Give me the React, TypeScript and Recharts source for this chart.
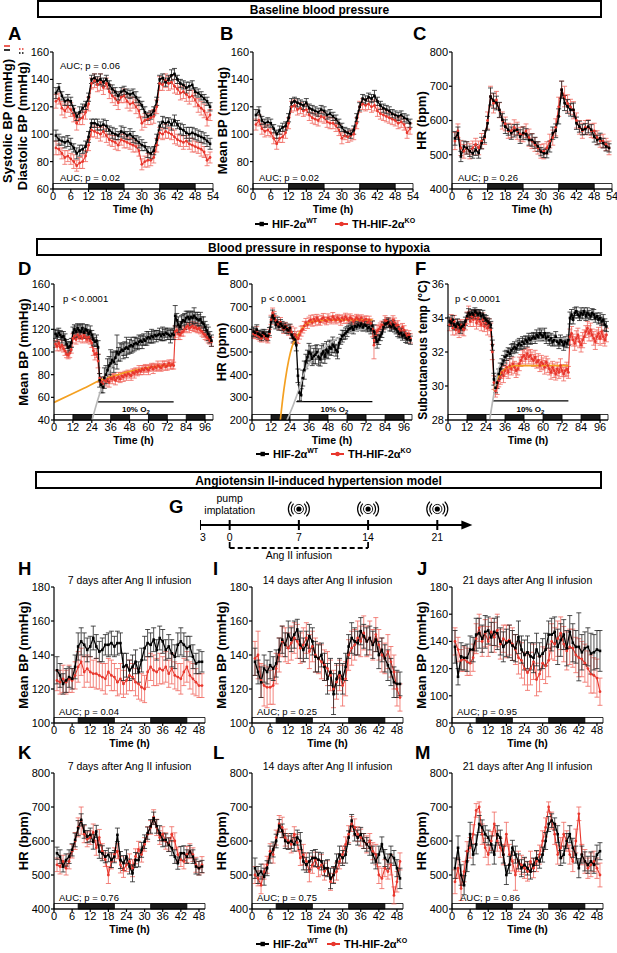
import React from 'react';
import {
  ComposedChart, Line, XAxis, YAxis, ErrorBar, ReferenceArea, ReferenceLine, ReferenceDot, Scatter,
} from 'recharts';

const FONT = '"Liberation Sans", Arial, Helvetica, sans-serif';
const INK = '#000000';
const RED = '#e8372d';
const RED_ERR = '#f0665d';
const ORANGE = '#f4a021';
const FIT_GREY = '#b8b8b8';

// ---------- time axes / light-dark cycles ----------
const ticks54 = [0, 6, 12, 18, 24, 30, 36, 42, 48, 54];
const ticks96 = [0, 12, 24, 36, 48, 60, 72, 84, 96];
const ticks48 = [0, 6, 12, 18, 24, 30, 36, 42, 48];
const darkBaseline: [number, number][] = [[12, 24], [36, 48]];
const darkHypoxia: [number, number][] = [[12, 24], [36, 48], [60, 72], [84, 96]];
const darkAngII: [number, number][] = [[8, 20], [32, 44]];

// ---------- A: systolic / diastolic BP (h 1..53) ----------
const sysWT = [130, 134, 128, 124, 125, 124, 118, 113, 116, 119, 121, 127, 140, 141, 139, 140, 138, 140, 136, 133, 131, 128, 131, 132, 130, 129, 130, 127, 124, 121, 116, 113, 114, 117, 124, 140, 141, 138, 140, 143, 144, 140, 137, 136, 134, 135, 136, 131, 130, 128, 126, 124, 120];
const sysWTE = [4, 3, 3, 3, 4, 3, 3, 3, 4, 3, 3, 3, 3, 3, 3, 4, 3, 3, 3, 3, 3, 3, 3, 3, 3, 3, 3, 4, 3, 3, 4, 3, 3, 3, 3, 3, 3, 3, 3, 4, 4, 3, 3, 3, 4, 3, 3, 3, 3, 3, 3, 3, 3];
const sysKO = [124, 126, 119, 117, 120, 118, 114, 108, 111, 112, 116, 122, 137, 139, 136, 138, 134, 137, 131, 128, 126, 123, 127, 128, 124, 122, 123, 120, 117, 108, 110, 111, 112, 113, 120, 137, 136, 139, 137, 138, 135, 133, 130, 131, 129, 127, 128, 125, 121, 119, 117, 111, 114];
const sysKOE = [5, 4, 5, 5, 4, 5, 5, 5, 4, 5, 5, 5, 4, 5, 5, 6, 5, 4, 5, 5, 5, 5, 4, 5, 5, 5, 4, 5, 5, 5, 5, 4, 5, 5, 5, 5, 4, 5, 5, 5, 5, 4, 5, 5, 5, 5, 4, 5, 5, 5, 5, 5, 4];
const diaWT = [99, 96, 95, 94, 95, 93, 90, 86, 88, 89, 91, 98, 108, 108, 107, 106, 107, 106, 103, 101, 100, 99, 102, 101, 99, 100, 98, 96, 94, 92, 91, 87, 86, 88, 96, 106, 109, 108, 109, 107, 110, 107, 104, 103, 101, 100, 101, 100, 99, 98, 97, 95, 93];
const diaWTE = [4, 4, 3, 4, 4, 4, 3, 4, 4, 3, 4, 4, 3, 3, 4, 3, 4, 4, 3, 4, 4, 3, 4, 4, 3, 4, 4, 3, 4, 4, 3, 4, 4, 3, 4, 3, 4, 4, 3, 4, 4, 3, 4, 4, 4, 5, 4, 4, 4, 4, 4, 4, 4];
const diaKO = [90, 89, 86, 83, 84, 82, 80, 77, 79, 80, 84, 92, 103, 102, 101, 100, 102, 99, 96, 95, 94, 92, 96, 95, 94, 93, 92, 91, 88, 78, 80, 81, 81, 83, 92, 101, 100, 102, 101, 100, 98, 96, 95, 94, 95, 93, 92, 91, 90, 89, 87, 81, 83];
const diaKOE = [5, 4, 4, 5, 4, 4, 5, 4, 4, 5, 4, 4, 5, 4, 4, 5, 4, 5, 4, 4, 5, 4, 4, 5, 4, 4, 5, 4, 4, 4, 4, 5, 4, 4, 5, 4, 4, 5, 4, 4, 5, 4, 4, 5, 4, 4, 5, 4, 4, 5, 4, 4, 4];

// ---------- B: mean BP ----------
const bWT = [114, 117, 110, 108, 109, 108, 104, 100, 103, 105, 106, 112, 123, 124, 123, 122, 121, 123, 119, 118, 117, 116, 118, 117, 114, 115, 113, 111, 108, 105, 102, 101, 100, 103, 112, 120, 126, 125, 127, 126, 128, 124, 121, 119, 118, 117, 115, 114, 113, 114, 112, 111, 108];
const bWTE = [4, 3, 3, 3, 3, 3, 3, 3, 3, 3, 3, 3, 3, 3, 3, 3, 3, 3, 3, 3, 3, 3, 3, 3, 3, 3, 3, 3, 3, 3, 3, 3, 3, 3, 3, 3, 3, 3, 3, 3, 4, 3, 3, 3, 3, 3, 3, 3, 3, 3, 3, 3, 3];
const bKO = [107, 110, 104, 102, 103, 101, 97, 93, 97, 98, 101, 108, 120, 121, 118, 119, 117, 118, 114, 112, 111, 110, 113, 112, 109, 108, 108, 106, 103, 97, 99, 98, 99, 100, 108, 120, 122, 121, 122, 120, 121, 117, 115, 114, 113, 112, 111, 110, 108, 109, 107, 101, 104];
const bKOE = [4, 4, 4, 4, 4, 3, 4, 4, 3, 4, 4, 4, 4, 4, 4, 4, 4, 4, 4, 4, 4, 4, 4, 4, 4, 4, 4, 4, 4, 4, 3, 4, 4, 4, 4, 4, 4, 4, 4, 4, 4, 4, 4, 4, 4, 4, 4, 4, 4, 4, 4, 4, 4];

// ---------- C: heart rate ----------
const cWT = [548, 563, 495, 524, 520, 510, 504, 514, 505, 534, 553, 592, 670, 658, 651, 631, 602, 582, 573, 563, 570, 573, 553, 563, 560, 543, 543, 535, 524, 509, 504, 505, 524, 563, 570, 612, 690, 651, 641, 631, 631, 592, 582, 573, 575, 582, 573, 553, 543, 548, 534, 524, 520];
const cWTE = [20, 18, 15, 16, 18, 15, 14, 16, 15, 17, 18, 20, 25, 22, 20, 22, 18, 20, 16, 18, 18, 16, 20, 18, 16, 15, 18, 16, 14, 12, 12, 14, 16, 18, 20, 22, 25, 22, 20, 18, 20, 18, 16, 15, 16, 18, 15, 16, 14, 15, 14, 13, 12];
const cKO = [540, 570, 520, 510, 520, 510, 520, 530, 520, 540, 550, 600, 670, 650, 660, 630, 600, 590, 570, 570, 580, 570, 560, 560, 570, 550, 540, 530, 520, 510, 510, 520, 540, 550, 580, 640, 690, 670, 650, 640, 630, 600, 580, 570, 580, 580, 570, 570, 550, 540, 540, 530, 520];
const cKOE = [25, 20, 22, 20, 18, 22, 20, 18, 20, 22, 20, 25, 30, 28, 25, 22, 25, 20, 22, 20, 22, 25, 20, 22, 20, 25, 22, 20, 18, 20, 22, 18, 20, 22, 25, 28, 25, 30, 25, 22, 25, 22, 20, 22, 20, 22, 20, 22, 20, 18, 20, 18, 20];

// ---------- D: mean BP under hypoxia (h 1..100) ----------
const dWT = [116, 114, 117, 115, 113, 114, 111, 107, 104, 105, 108,
  117, 120, 118, 121, 119, 118, 121, 117, 120, 119, 116, 118, 115,
  111, 109, 110, 104,
  75, 71, 69, 77, 80, 84, 88, 90, 93, 91, 95, 100,
  98, 100, 102, 101, 103, 104, 103, 105, 106, 105, 107, 108,
  107, 109, 110, 109, 111, 110, 112, 113, 112, 114, 113, 115,
  114, 115, 116, 114, 116, 115, 117, 116, 115, 114, 116, 115,
  132,
  128, 124, 122, 126, 128, 127, 130, 131, 129, 131, 130, 132,
  130, 129, 128, 129, 126, 125, 122, 119, 116, 113, 110];
const dWTE = [4, 5, 4, 4, 5, 4, 5, 4, 5, 4, 4,
  5, 4, 5, 4, 5, 6, 4, 5, 4, 5, 4, 5, 4,
  5, 4, 5, 6,
  6, 7, 5, 9, 8, 10, 8, 12, 7, 9, 6, 15,
  6, 8, 5, 7, 6, 9, 5, 6, 7, 5, 6, 5,
  5, 6, 4, 6, 5, 4, 6, 5, 4, 6, 5, 4,
  5, 4, 5, 4, 6, 5, 4, 5, 4, 6, 5, 4,
  9,
  6, 7, 5, 6, 5, 7, 6, 5, 6, 5, 6, 7,
  5, 6, 5, 6, 5, 6, 5, 5, 6, 5, 5];
const dKO = [107, 105, 108, 104, 106, 103, 101, 98, 97, 99, 102,
  112, 114, 111, 115, 113, 114, 112, 115, 113, 111, 113, 110, 108,
  101, 98, 99, 92,
  77, 74, 72, 75, 74, 76, 73, 77, 76, 78, 75, 77,
  78, 76, 79, 78, 80, 79, 81, 80, 79, 82, 81, 83,
  82, 84, 83, 85, 84, 86, 85, 84, 86, 87, 85, 87,
  86, 88, 87, 86, 88, 89, 87, 88, 90, 88, 89, 88,
  118,
  119, 116, 115, 117, 118, 120, 122, 123, 121, 122, 123, 121,
  122, 120, 121, 119, 118, 116, 115, 113, 112, 110, 109];
const dKOE = [3, 4, 3, 3, 4, 3, 4, 3, 3, 4, 3,
  4, 3, 4, 3, 4, 3, 4, 3, 4, 3, 4, 3, 4,
  4, 5, 4, 6,
  4, 3, 4, 3, 4, 3, 4, 3, 4, 3, 4, 3,
  4, 3, 3, 4, 3, 4, 3, 3, 4, 3, 4, 3,
  3, 4, 3, 3, 4, 3, 3, 4, 3, 3, 4, 3,
  3, 4, 3, 3, 4, 3, 3, 4, 3, 3, 4, 3,
  5,
  4, 5, 4, 3, 4, 3, 4, 3, 4, 3, 4, 3,
  4, 3, 4, 3, 4, 3, 4, 3, 4, 3, 4];

// ---------- E: heart rate under hypoxia ----------
const eWT = [590, 585, 598, 580, 576, 570, 585, 580, 572, 570, 590,
  632, 660, 648, 620, 632, 612, 625, 615, 606, 612, 600, 595, 605,
  575, 562, 555, 530,
  395, 320, 310, 385, 420, 458, 478, 500, 492, 470, 482, 488,
  500, 478, 468, 490, 502, 480, 510, 498, 520, 515, 532, 524,
  508, 500, 540, 556, 570, 575, 582, 590, 600, 604, 610, 598,
  615, 610, 620, 614, 625, 608, 620, 616, 605, 610, 600, 615,
  590,
  565, 545, 555, 570, 582, 610, 622, 626, 630, 615, 610, 620,
  606, 600, 590, 580, 585, 570, 576, 562, 556, 565, 552];
const eWTE = [20, 18, 22, 16, 18, 20, 15, 18, 16, 20, 18,
  22, 25, 20, 18, 22, 16, 18, 20, 18, 16, 18, 15, 18,
  16, 18, 20, 25,
  30, 35, 28, 35, 40, 32, 30, 38, 35, 30, 34, 40,
  32, 36, 30, 38, 34, 30, 36, 28, 32, 30, 34, 28,
  26, 30, 24, 22, 26, 20, 24, 22, 18, 20, 22, 18,
  20, 18, 22, 18, 20, 16, 18, 20, 16, 18, 20, 22,
  30,
  24, 28, 22, 20, 18, 22, 20, 18, 20, 22, 18, 20,
  18, 20, 22, 18, 20, 18, 16, 20, 18, 16, 18];
const eKO = [580, 575, 592, 570, 566, 560, 576, 570, 560, 556, 582,
  642, 672, 660, 640, 626, 616, 632, 610, 600, 616, 605, 590, 600,
  588, 560, 576, 566,
  558, 575, 592, 600, 615, 630, 620, 636, 642, 630, 646, 636,
  650, 640, 632, 646, 652, 640, 636, 650, 645, 640, 656, 646,
  640, 652, 645, 636, 650, 642, 656, 646, 640, 652, 646, 635,
  642, 652, 646, 640, 650, 636, 642, 645, 630, 640, 626, 602,
  530,
  570, 592, 600, 610, 620, 616, 640, 636, 626, 630, 620, 642,
  630, 616, 620, 600, 590, 610, 596, 580, 570, 576, 560];
const eKOE = [18, 16, 20, 15, 18, 16, 14, 18, 15, 16, 18,
  20, 22, 18, 20, 16, 18, 20, 16, 18, 15, 18, 16, 20,
  25, 22, 30, 24,
  20, 18, 22, 16, 20, 18, 16, 18, 20, 16, 18, 20,
  16, 18, 14, 16, 18, 15, 16, 18, 14, 16, 18, 15,
  16, 14, 16, 18, 14, 16, 15, 18, 14, 16, 15, 14,
  16, 14, 15, 16, 14, 18, 16, 14, 16, 18, 20, 35,
  60,
  30, 25, 20, 18, 16, 18, 20, 16, 18, 20, 16, 18,
  20, 16, 18, 20, 18, 16, 20, 18, 16, 18, 20];

// ---------- F: subcutaneous temperature under hypoxia ----------
const fWT = [33.8, 33.7, 33.9, 33.6, 33.5, 33.7, 33.6, 33.4, 33.5, 33.6, 33.8,
  34.1, 34.3, 34.2, 34.3, 34.2, 34.4, 34.3, 34.2, 34.3, 34.1, 34.2, 34.0, 33.9,
  33.8, 33.7, 33.6, 32.4,
  30.4, 29.9, 30.2, 30.7, 31.0, 31.3, 31.5, 31.7, 31.8, 32.0, 31.9, 32.1,
  32.2, 32.3, 32.2, 32.4, 32.5, 32.4, 32.6, 32.5, 32.7, 32.6, 32.8, 32.7,
  32.8, 32.9, 32.8, 33.0, 32.9, 33.1, 33.0, 32.9, 33.1, 32.8, 32.9, 32.7,
  32.8, 32.6, 32.7, 32.9, 32.6, 32.5, 32.7, 32.6, 32.4, 32.6, 32.5, 32.7,
  34.0,
  34.2, 33.9, 34.3, 34.4, 34.2, 34.1, 34.3, 34.2, 34.4, 34.1, 34.3, 34.2,
  34.1, 34.3, 34.2, 34.0, 34.1, 33.9, 34.0, 33.8, 33.9, 33.6, 33.5];
const fWTE = [0.25, 0.2, 0.25, 0.3, 0.2, 0.25, 0.2, 0.3, 0.25, 0.2, 0.25,
  0.2, 0.25, 0.2, 0.2, 0.25, 0.2, 0.2, 0.25, 0.2, 0.2, 0.25, 0.2, 0.25,
  0.2, 0.25, 0.2, 0.3,
  0.35, 0.3, 0.35, 0.3, 0.35, 0.3, 0.3, 0.35, 0.3, 0.25, 0.3, 0.35,
  0.3, 0.3, 0.25, 0.3, 0.3, 0.25, 0.3, 0.3, 0.25, 0.3, 0.3, 0.25,
  0.3, 0.25, 0.3, 0.3, 0.25, 0.3, 0.3, 0.25, 0.3, 0.3, 0.25, 0.3,
  0.3, 0.25, 0.3, 0.3, 0.25, 0.3, 0.3, 0.25, 0.3, 0.3, 0.25, 0.3,
  0.35,
  0.3, 0.25, 0.3, 0.25, 0.2, 0.25, 0.3, 0.25, 0.2, 0.25, 0.3, 0.25,
  0.2, 0.25, 0.3, 0.25, 0.2, 0.25, 0.3, 0.25, 0.3, 0.35, 0.3];
const fKO = [33.6, 33.9, 33.4, 33.8, 33.3, 33.5, 33.2, 33.6, 33.4, 33.3, 33.6,
  34.0, 34.3, 33.8, 34.1, 33.9, 34.2, 33.7, 34.0, 33.8, 33.6, 33.9, 33.5, 33.7,
  33.4, 33.6, 33.3, 32.0,
  30.2, 29.7, 29.9, 30.3, 30.5, 30.8, 30.6, 30.9, 31.1, 30.8, 31.2, 31.0,
  31.3, 31.1, 30.9, 31.0, 31.3, 31.5, 31.7, 31.8, 31.6, 31.9, 31.7, 31.8,
  31.6, 31.5, 31.7, 31.4, 31.5, 31.2, 31.4, 31.3, 31.1, 31.4, 31.2, 31.0,
  30.8, 31.1, 30.9, 30.7, 31.0, 30.8, 31.2, 30.9, 30.7, 30.9, 31.0, 30.8,
  32.9,
  33.1, 32.7, 32.5, 32.8, 33.0, 32.6, 32.4, 32.7, 32.9, 33.2, 33.4, 33.1,
  33.3, 33.0, 32.8, 32.6, 32.9, 33.1, 32.8, 33.2, 32.9, 32.7, 33.0];
const fKOE = [0.35, 0.3, 0.4, 0.35, 0.3, 0.4, 0.35, 0.3, 0.4, 0.35, 0.3,
  0.35, 0.4, 0.3, 0.35, 0.4, 0.3, 0.35, 0.4, 0.3, 0.35, 0.4, 0.3, 0.35,
  0.4, 0.35, 0.4, 0.45,
  0.4, 0.35, 0.4, 0.35, 0.4, 0.35, 0.4, 0.35, 0.4, 0.35, 0.4, 0.35,
  0.4, 0.35, 0.4, 0.35, 0.4, 0.35, 0.4, 0.35, 0.4, 0.35, 0.4, 0.35,
  0.4, 0.35, 0.4, 0.35, 0.4, 0.35, 0.4, 0.35, 0.4, 0.35, 0.4, 0.35,
  0.4, 0.35, 0.4, 0.35, 0.4, 0.35, 0.4, 0.35, 0.4, 0.35, 0.4, 0.35,
  0.45,
  0.4, 0.35, 0.4, 0.45, 0.4, 0.35, 0.4, 0.45, 0.4, 0.35, 0.4, 0.45,
  0.4, 0.35, 0.4, 0.45, 0.4, 0.35, 0.4, 0.45, 0.4, 0.35, 0.4];

// ---------- exponential fits during hypoxia ----------
const fitDWTHours = [24.2, 27, 30.6, 33.8, 38, 42, 48.3, 56.7, 65, 76];
const fitDWT = [40, 54, 69.5, 80, 90, 97, 104.5, 110.5, 113.5, 115.5];
const fitDKOHours = [0, 10, 19, 29.4, 40, 50.5, 61, 76];
const fitDKO = [55.5, 62, 68, 75, 79.7, 83.5, 86.5, 88.7];
const fitEWTHours = [22.1, 26, 29.5, 33.7, 40, 50.5, 61, 76];
const fitEWT = [200, 265, 332, 420, 479, 546, 582, 612];
const fitEKOHours = [17.9, 19.5, 21, 23.2, 25.3, 28.4, 31.6, 37.9, 50.5, 76];
const fitEKO = [200, 300, 376, 465, 524, 568, 604, 634, 642, 642];
const fitFWTHours = [26.3, 28, 29.5, 31.6, 33.7, 35.8, 42, 50.5, 60, 76];
const fitFWT = [28, 29.0, 29.8, 30.9, 31.35, 31.7, 32.3, 32.6, 32.75, 32.8];
const fitFKOHours = [29, 30, 31.5, 33.7, 36, 38, 44, 76];
const fitFKO = [29.7, 30.1, 30.5, 30.8, 31.0, 31.1, 31.2, 31.2];
const hypoxiaWindow = [28, 76];

// ---------- H-J: mean BP after Ang II (h 1..49) ----------
const hWT = [131, 128, 123, 125, 127, 126, 133, 145, 148, 146, 143, 145, 150, 145, 142, 143, 146, 146, 147, 145, 147, 147, 133, 134, 131, 133, 136, 130, 137, 144, 147, 146, 149, 143, 150, 148, 143, 145, 141, 139, 146, 148, 146, 144, 145, 139, 135, 136, 136];
const hWTE = [8, 7, 6, 7, 6, 6, 7, 8, 8, 7, 7, 6, 7, 7, 6, 7, 6, 7, 7, 6, 7, 6, 8, 7, 6, 7, 7, 6, 7, 7, 8, 7, 7, 6, 7, 7, 6, 7, 8, 7, 7, 8, 7, 7, 6, 7, 6, 7, 6];
const hKO = [125, 124, 126, 124, 126, 125, 128, 133, 136, 130, 132, 130, 129, 129, 128, 127, 126, 130, 128, 127, 124, 126, 123, 125, 128, 127, 124, 123, 121, 120, 130, 133, 131, 130, 132, 131, 133, 129, 132, 128, 127, 126, 130, 133, 128, 126, 124, 122, 122];
const hKOE = [6, 7, 8, 7, 8, 7, 8, 9, 8, 9, 8, 9, 8, 9, 8, 8, 9, 8, 9, 8, 8, 9, 8, 8, 9, 8, 8, 9, 8, 8, 9, 8, 9, 8, 9, 8, 9, 8, 9, 8, 8, 9, 8, 9, 8, 9, 8, 7, 7];
const iWT = [136, 130, 124, 132, 130, 134, 132, 135, 143, 149, 146, 152, 149, 152, 155, 146, 143, 146, 151, 148, 139, 138, 140, 133, 126, 130, 117, 126, 130, 126, 133, 145, 150, 148, 147, 154, 151, 148, 150, 146, 149, 140, 143, 138, 134, 130, 124, 123, 123];
const iWTE = [8, 7, 9, 8, 7, 8, 7, 8, 7, 8, 7, 8, 7, 8, 6, 8, 7, 8, 7, 8, 9, 8, 7, 8, 9, 8, 12, 9, 8, 9, 8, 7, 9, 8, 7, 8, 7, 8, 7, 8, 7, 8, 7, 8, 9, 8, 9, 8, 7];
const iKO = [138, 140, 125, 122, 121, 121, 122, 132, 140, 148, 146, 144, 147, 150, 148, 144, 146, 150, 142, 145, 140, 138, 136, 134, 132, 128, 120, 124, 128, 122, 126, 140, 144, 146, 150, 148, 153, 148, 150, 146, 152, 146, 140, 138, 142, 136, 130, 120, 115];
const iKOE = [10, 14, 10, 12, 12, 10, 11, 9, 10, 9, 10, 9, 10, 9, 10, 9, 10, 9, 10, 9, 10, 9, 10, 9, 10, 9, 11, 10, 9, 12, 10, 9, 10, 9, 10, 9, 10, 9, 10, 9, 10, 9, 10, 9, 10, 9, 10, 10, 8];
const jWT = [136, 114, 129, 128, 128, 134, 134, 145, 146, 142, 147, 148, 143, 147, 146, 140, 136, 139, 140, 137, 135, 143, 134, 130, 132, 129, 128, 134, 129, 131, 134, 145, 145, 147, 136, 141, 145, 135, 147, 139, 136, 136, 132, 135, 136, 131, 132, 134, 133];
const jWTE = [12, 6, 10, 9, 10, 10, 9, 12, 11, 10, 12, 10, 11, 10, 12, 10, 11, 10, 12, 11, 10, 12, 10, 11, 12, 10, 11, 12, 10, 11, 12, 10, 12, 11, 13, 12, 11, 13, 12, 14, 12, 25, 13, 12, 14, 15, 13, 14, 15];
const jKO = [140, 134, 126, 127, 125, 124, 128, 142, 150, 140, 146, 140, 147, 143, 148, 138, 142, 140, 141, 138, 134, 128, 126, 120, 117, 120, 125, 112, 116, 124, 122, 126, 140, 138, 142, 146, 138, 133, 136, 135, 130, 128, 127, 124, 120, 116, 115, 113, 103];
const jKOE = [10, 9, 8, 9, 10, 9, 10, 11, 10, 11, 10, 11, 10, 11, 12, 11, 10, 12, 11, 12, 11, 12, 13, 12, 13, 12, 13, 12, 13, 12, 13, 12, 13, 12, 13, 12, 13, 14, 13, 14, 13, 14, 13, 14, 13, 14, 13, 14, 10];

// ---------- K-M: heart rate after Ang II ----------
const kWT = [564, 554, 525, 544, 554, 574, 603, 638, 662, 628, 613, 618, 598, 628, 569, 564, 554, 559, 544, 554, 618, 544, 535, 554, 525, 505, 544, 544, 574, 598, 623, 643, 667, 643, 623, 603, 603, 589, 579, 554, 535, 564, 564, 554, 569, 554, 525, 520, 525];
const kWTE = [18, 20, 16, 18, 20, 18, 20, 22, 18, 20, 18, 20, 22, 18, 20, 22, 18, 20, 22, 18, 20, 25, 22, 20, 22, 25, 22, 20, 22, 20, 18, 20, 18, 20, 22, 20, 18, 20, 22, 20, 18, 20, 22, 20, 18, 20, 22, 20, 18];
const kKO = [530, 525, 540, 520, 540, 570, 600, 640, 660, 620, 605, 610, 625, 580, 610, 570, 545, 500, 540, 560, 570, 530, 515, 530, 540, 520, 555, 575, 560, 590, 620, 640, 670, 640, 610, 620, 600, 590, 620, 600, 560, 545, 540, 560, 570, 560, 530, 520, 530];
const kKOE = [20, 22, 18, 20, 22, 20, 25, 28, 40, 25, 22, 20, 25, 22, 24, 22, 20, 25, 22, 20, 22, 24, 22, 20, 22, 25, 22, 24, 22, 20, 22, 20, 22, 24, 20, 22, 24, 20, 22, 24, 22, 20, 22, 24, 22, 20, 22, 20, 24];
const lWT = [520, 500, 510, 495, 520, 560, 575, 600, 645, 630, 600, 595, 600, 590, 610, 600, 540, 530, 540, 550, 550, 545, 540, 520, 520, 490, 500, 540, 560, 550, 560, 610, 660, 620, 610, 620, 600, 590, 580, 560, 540, 560, 590, 550, 540, 560, 550, 520, 490];
const lWTE = [30, 25, 22, 25, 22, 25, 22, 20, 18, 20, 22, 20, 22, 20, 22, 25, 25, 22, 25, 22, 25, 22, 25, 22, 25, 30, 25, 22, 25, 22, 25, 20, 18, 20, 22, 20, 22, 20, 22, 25, 22, 25, 22, 25, 22, 25, 22, 25, 30];
const lKO = [500, 490, 470, 510, 530, 570, 560, 610, 650, 640, 610, 600, 590, 620, 595, 550, 560, 540, 510, 530, 545, 520, 530, 510, 520, 480, 500, 510, 540, 560, 590, 620, 650, 640, 620, 610, 600, 590, 600, 570, 560, 500, 490, 520, 510, 530, 440, 480, 540];
const lKOE = [25, 22, 25, 22, 25, 22, 25, 22, 25, 30, 25, 22, 25, 22, 25, 22, 30, 25, 30, 25, 22, 25, 30, 25, 22, 25, 22, 25, 22, 25, 22, 25, 22, 25, 22, 25, 22, 25, 22, 25, 30, 25, 30, 25, 22, 30, 25, 30, 25];
const mWT = [520, 580, 500, 470, 540, 620, 560, 590, 650, 640, 620, 610, 590, 560, 620, 610, 560, 500, 530, 580, 560, 540, 520, 530, 520, 510, 530, 550, 540, 560, 600, 650, 660, 650, 620, 550, 560, 600, 620, 580, 560, 520, 560, 540, 530, 540, 530, 560, 570];
const mWTE = [30, 35, 30, 28, 30, 35, 30, 28, 25, 22, 25, 22, 25, 28, 25, 22, 25, 28, 25, 22, 25, 22, 25, 22, 20, 22, 20, 22, 20, 22, 25, 22, 20, 18, 25, 22, 25, 22, 25, 28, 25, 28, 25, 28, 25, 28, 25, 28, 25];
const mKO = [480, 520, 460, 510, 570, 580, 620, 690, 700, 620, 580, 560, 600, 650, 600, 580, 560, 620, 560, 540, 500, 540, 530, 520, 510, 540, 520, 540, 560, 600, 640, 700, 660, 620, 560, 580, 620, 600, 560, 540, 600, 680, 560, 540, 520, 530, 540, 520, 500];
const mKOE = [35, 30, 35, 30, 28, 30, 28, 20, 15, 30, 28, 30, 28, 35, 30, 28, 30, 35, 30, 28, 45, 30, 28, 30, 28, 30, 28, 30, 28, 30, 28, 15, 25, 30, 28, 30, 35, 30, 28, 30, 35, 20, 30, 35, 30, 35, 30, 30, 35];

// ---------- G: protocol timeline (days) ----------
const timelineDays = [-3, 0, 7, 14, 21];
const recordingDays = [7, 14, 21];
const infusionDays = [0, 14];

// ---------- layout ----------
const GEO = {
  A: { x: 53, y: 52, w: 160, h: 137 },
  B: { x: 253, y: 52, w: 160, h: 137 },
  C: { x: 452, y: 52, w: 160, h: 137 },
  D: { x: 54, y: 284, w: 159, h: 136 },
  E: { x: 252, y: 284, w: 160, h: 136 },
  F: { x: 448, y: 284, w: 160, h: 136 },
  H: { x: 54, y: 587, w: 151, h: 136 },
  I: { x: 252, y: 587, w: 151, h: 136 },
  J: { x: 452, y: 587, w: 151, h: 136 },
  K: { x: 54, y: 773, w: 151, h: 136 },
  L: { x: 252, y: 773, w: 151, h: 136 },
  M: { x: 452, y: 773, w: 151, h: 136 },
};

const buildRows = (cols: Record<string, number[]>) => {
  const n = Math.max(...Object.values(cols).map((c) => c.length));
  return Array.from({ length: n }, (_, i) => {
    const r: Record<string, number> = { h: i + 1 };
    Object.keys(cols).forEach((k) => { r[k] = cols[k][i]; });
    return r;
  });
};
const pairRows = (wt: number[], wtE: number[], ko: number[], koE: number[]) =>
  buildRows({ wt, wtE, ko, koE });
const fitRows = (hours: number[], vals: number[]) => hours.map((h, i) => ({ h, v: vals[i] }));

const squareDot = (color: string, s: number) => (p: any) => {
  if (p.cx == null || p.cy == null) return <g key={`q${p.index}`} />;
  return <rect key={`q${p.index}`} x={p.cx - s / 2} y={p.cy - s / 2} width={s} height={s} fill={color} />;
};
const roundDot = (color: string, r: number) => (p: any) => {
  if (p.cx == null || p.cy == null) return <g key={`c${p.index}`} />;
  return <circle key={`c${p.index}`} cx={p.cx} cy={p.cy} r={r} fill={color} />;
};

type Series = { key: string; err: string; color: string; errColor: string; width: number; dot: any };
const koSeries = (key = 'ko', err = 'koE'): Series =>
  ({ key, err, color: RED, errColor: RED_ERR, width: 1.1, dot: roundDot(RED, 1.4) });
const wtSeries = (key = 'wt', err = 'wtE'): Series =>
  ({ key, err, color: INK, errColor: '#222', width: 1.3, dot: squareDot(INK, 2.6) });
const STD_SERIES = [koSeries(), wtSeries()];

const PAD_L = 60;
const PAD_R = 8;
const PAD_T = 8;
const PAD_B = 22;
const tickStyle = { fontSize: 11, fill: '#000' };
const axisStyle = { stroke: '#000', strokeWidth: 1.2 };

interface PanelProps {
  geo: { x: number; y: number; w: number; h: number };
  rows: Record<string, number>[];
  series?: Series[];
  xMax: number;
  xTicks: number[];
  yDomain: [number, number];
  yTicks: number[];
  dark: [number, number][];
  fits?: { data: { h: number; v: number }[]; color: string }[];
  o2y?: number;
}

function Panel({ geo, rows, series = STD_SERIES, xMax, xTicks, yDomain, yTicks, dark, fits = [], o2y }: PanelProps) {
  const { x, y, w, h } = geo;
  const [y0, y1] = yDomain;
  const barTop = y0 + (5.5 * (y1 - y0)) / h;
  return (
    <div style={{ position: 'absolute', left: x - PAD_L, top: y - PAD_T }}>
      <ComposedChart
        width={w + PAD_L + PAD_R}
        height={h + PAD_T + PAD_B}
        data={rows}
        margin={{ top: PAD_T, right: PAD_R, left: 0, bottom: 0 }}
      >
        <XAxis type="number" dataKey="h" domain={[0, xMax]} ticks={xTicks} interval={0} allowDataOverflow
          height={PAD_B} tickSize={3} tickMargin={0} tick={tickStyle} axisLine={axisStyle} tickLine={axisStyle} />
        <YAxis type="number" domain={yDomain} ticks={yTicks} interval={0} allowDataOverflow
          width={PAD_L} tickSize={3} tickMargin={1} tick={tickStyle} axisLine={axisStyle} tickLine={axisStyle} />
        <ReferenceArea x1={0} x2={xMax} y1={y0} y2={barTop} fill="#fff" fillOpacity={1} stroke="#000" strokeWidth={0.8} />
        {dark.map(([a, b]) => (
          <ReferenceArea key={a} x1={a} x2={b} y1={y0} y2={barTop} fill="#1c1c1c" fillOpacity={1} stroke="#000" strokeWidth={0.8} />
        ))}
        {o2y !== undefined && (
          <ReferenceLine segment={[{ x: hypoxiaWindow[0], y: o2y }, { x: hypoxiaWindow[1], y: o2y }]} stroke="#000" strokeWidth={1.3} />
        )}
        {series.map((s) => (
          <Line key={s.key} dataKey={s.key} stroke={s.color} strokeWidth={s.width} dot={s.dot} activeDot={false}
            isAnimationActive={false} legendType="none">
            <ErrorBar dataKey={s.err} width={2.5} stroke={s.errColor} strokeWidth={0.8} direction="y" isAnimationActive={false} />
          </Line>
        ))}
        {fits.map((f, i) => (
          <Line key={`fit${i}`} data={f.data} dataKey="v" type="monotone" stroke={f.color} strokeWidth={1.7}
            dot={false} activeDot={false} isAnimationActive={false} legendType="none" />
        ))}
      </ComposedChart>
    </div>
  );
}

// ---------- G timeline ----------
const arrowHead = (p: any) => (
  <path d={`M${p.cx},${p.cy} L${p.cx - 11},${p.cy - 4.5} L${p.cx - 11},${p.cy + 4.5} Z`} fill="#000" />
);
const dayTick = (p: any) => (
  <g>
    <line x1={p.cx} x2={p.cx} y1={p.cy - 5} y2={p.cy + 5} stroke="#000" strokeWidth={2} />
    <text x={p.cx} y={p.cy + 13} textAnchor="middle" dominantBaseline="central" fontSize={10.5}>{p.payload.label}</text>
  </g>
);
const arc = (cx: number, cy: number, r: number, side: number) => {
  const dx = r * Math.cos(Math.PI / 4) * side;
  const dy = r * Math.sin(Math.PI / 4);
  return `M${cx + dx},${cy - dy} A${r},${r} 0 0 ${side > 0 ? 1 : 0} ${cx + dx},${cy + dy}`;
};
const radioIcon = (p: any) => (
  <g fill="none" stroke="#000" strokeWidth={1.2}>
    <circle cx={p.cx} cy={p.cy} r={2.6} fill="#000" stroke="none" />
    <circle cx={p.cx} cy={p.cy} r={4.6} strokeWidth={0.9} />
    {[7.5, 10.5].map((r) => (
      <g key={r}>
        <path d={arc(p.cx, p.cy, r, -1)} />
        <path d={arc(p.cx, p.cy, r, 1)} />
      </g>
    ))}
  </g>
);
const pumpLabel = (p: any) => (
  <text x={p.cx} y={p.cy} textAnchor="middle" fontSize={10.5}>
    <tspan x={p.cx} dy={-4}>pump</tspan>
    <tspan x={p.cx} dy={12}>implatation</tspan>
  </text>
);
const infusionLabel = (p: any) => (
  <text x={p.cx} y={p.cy} textAnchor="middle" dominantBaseline="central" fontSize={10.5}>Ang II infusion</text>
);

function Timeline() {
  const L = 24;
  const R = 4;
  const T = 12;
  const B = 8;
  const px = 199.6;
  const pw = 272.4;
  const py = 495;
  const ph = 70;
  const rows = timelineDays.map((d) => ({ d, y: 0, label: d < 0 ? `\u2212${-d}` : String(d) }));
  const [s, e] = infusionDays;
  return (
    <div style={{ position: 'absolute', left: px - L, top: py - T }}>
      <ComposedChart width={pw + L + R} height={ph + T + B} data={rows} margin={{ top: T, right: R, left: L, bottom: B }}>
        <XAxis type="number" dataKey="d" domain={[-3, 24.55]} hide allowDataOverflow />
        <YAxis type="number" domain={[-4, 3]} hide allowDataOverflow />
        <ReferenceLine segment={[{ x: -3, y: 0 }, { x: 23.7, y: 0 }]} stroke="#000" strokeWidth={2} />
        <ReferenceDot x={24.55} y={0} r={1} shape={arrowHead} />
        <Scatter dataKey="y" shape={dayTick} isAnimationActive={false} legendType="none" />
        {recordingDays.map((d) => (
          <ReferenceDot key={d} x={d} y={1.6} r={1} shape={radioIcon} />
        ))}
        <ReferenceDot x={s} y={1.9} r={1} shape={pumpLabel} />
        <ReferenceLine segment={[{ x: s, y: -1.7 }, { x: s, y: -2.3 }]} stroke="#000" strokeWidth={1.8} />
        <ReferenceLine segment={[{ x: e, y: -1.7 }, { x: e, y: -2.3 }]} stroke="#000" strokeWidth={1.8} />
        <ReferenceLine segment={[{ x: s, y: -2.3 }, { x: e, y: -2.3 }]} stroke="#000" strokeWidth={1.8} strokeDasharray="5 3" />
        <ReferenceDot x={(s + e) / 2} y={-3.1} r={1} shape={infusionLabel} />
      </ComposedChart>
    </div>
  );
}

// ---------- overlay text ----------
const Header = ({ x, y, w, h, text }: { x: number; y: number; w: number; h: number; text: string }) => (
  <g>
    <rect x={x} y={y} width={w} height={h} fill="#fff" stroke="#000" strokeWidth={2} />
    <text x={x + w / 2} y={y + h / 2 + 0.5} textAnchor="middle" dominantBaseline="central" fontSize={12} fontWeight="bold">{text}</text>
  </g>
);
const VText = ({ x, y, size = 13, children }: { x: number; y: number; size?: number; children: React.ReactNode }) => (
  <text transform={`translate(${x} ${y}) rotate(-90)`} textAnchor="middle" dominantBaseline="central" fontSize={size} fontWeight="bold">
    {children}
  </text>
);
const Letter = ({ x, y, t }: { x: number; y: number; t: string }) => (
  <text x={x} y={y} fontSize={18.5} fontWeight="bold">{t}</text>
);
const Stat = ({ x, y, t }: { x: number; y: number; t: string }) => (
  <text x={x} y={y} dominantBaseline="central" fontSize={9.5}>{t}</text>
);
const LegendRow = ({ y, bx, rx }: { y: number; bx: number; rx: number }) => (
  <g fontSize={11} fontWeight="bold">
    <line x1={bx} x2={bx + 13} y1={y} y2={y} stroke={INK} strokeWidth={2} />
    <rect x={bx + 4.5} y={y - 2.2} width={4.4} height={4.4} fill={INK} />
    <text x={bx + 17} y={y + 4}>HIF-2α<tspan fontSize={7} dy={-5}>WT</tspan></text>
    <line x1={rx} x2={rx + 13} y1={y} y2={y} stroke={RED} strokeWidth={2} />
    <circle cx={rx + 6.5} cy={y} r={2.3} fill={RED} />
    <text x={rx + 17} y={y + 4}>TH-HIF-2α<tspan fontSize={7} dy={-5}>KO</tspan></text>
  </g>
);
const O2Label = ({ g, xMax }: { g: { x: number; w: number }; xMax: number }) => {
  const mid = (hypoxiaWindow[0] + hypoxiaWindow[1]) / 2;
  return (
    <text x={g.x + (mid * g.w) / xMax} y={412} textAnchor="middle" fontSize={8} fontWeight="bold">
      10% O<tspan fontSize={6} dy={2}>2</tspan>
    </text>
  );
};

function Overlay() {
  const timeLabel = (g: { x: number; y: number; w: number; h: number }) => (
    <text key={`t${g.x}${g.y}`} x={g.x + g.w / 2} y={g.y + g.h + 20} textAnchor="middle" dominantBaseline="central" fontSize={10.5} fontWeight="bold">Time (h)</text>
  );
  const title = (g: { x: number; y: number; w: number }, t: string) => (
    <text x={g.x + g.w / 2} y={g.y - 7} textAnchor="middle" dominantBaseline="central" fontSize={10.5}>{t}</text>
  );
  const mid = (g: { y: number; h: number }) => g.y + g.h / 2;
  return (
    <svg width={617} height={953} style={{ position: 'absolute', left: 0, top: 0, pointerEvents: 'none', fontFamily: FONT }}>
      <Header x={38} y={1} w={563} h={16} text="Baseline blood pressure" />
      <Header x={37} y={239} w={564} h={16} text="Blood pressure in response to hypoxia" />
      <Header x={36} y={472} w={565} h={16} text="Angiotensin II-induced hypertension model" />

      {['A', 'B', 'C', 'D', 'E', 'F', 'H', 'I', 'J', 'K', 'L', 'M'].map((k) => timeLabel((GEO as any)[k]))}

      <Letter x={8} y={40} t="A" />
      <Letter x={220} y={40} t="B" />
      <Letter x={413} y={40} t="C" />
      <Letter x={18} y={275} t="D" />
      <Letter x={217} y={275} t="E" />
      <Letter x={415} y={275} t="F" />
      <Letter x={169} y={513} t="G" />
      <Letter x={18} y={575} t="H" />
      <Letter x={213} y={575} t="I" />
      <Letter x={417} y={575} t="J" />
      <Letter x={18} y={759} t="K" />
      <Letter x={213} y={759} t="L" />
      <Letter x={415} y={759} t="M" />

      <VText x={7} y={121}>Systolic BP (mmHg)</VText>
      <VText x={22} y={126}>Diastolic BP (mmHg)</VText>
      <line x1={4} x2={10} y1={46} y2={46} stroke={RED} strokeWidth={1.6} />
      <line x1={4} x2={10} y1={50} y2={50} stroke={INK} strokeWidth={1.6} />
      <line x1={19} x2={25} y1={49} y2={49} stroke={RED} strokeWidth={1.6} strokeDasharray="1.5 1.5" />
      <line x1={19} x2={25} y1={53} y2={53} stroke={INK} strokeWidth={1.6} strokeDasharray="1.5 1.5" />
      <VText x={GEO.B.x - 31} y={mid(GEO.B)}>Mean BP (mmHg)</VText>
      <VText x={GEO.C.x - 31} y={mid(GEO.C)}>HR (bpm)</VText>
      <VText x={GEO.D.x - 31} y={mid(GEO.D)}>Mean BP (mmHg)</VText>
      <VText x={GEO.E.x - 31} y={mid(GEO.E)}>HR (bpm)</VText>
      <VText x={GEO.F.x - 25} y={mid(GEO.F) - 2} size={12}>Subcutaneous temp (°C)</VText>
      <VText x={GEO.H.x - 31} y={mid(GEO.H)}>Mean BP (mmHg)</VText>
      <VText x={GEO.I.x - 31} y={mid(GEO.I)}>Mean BP (mmHg)</VText>
      <VText x={GEO.J.x - 31} y={mid(GEO.J)}>Mean BP (mmHg)</VText>
      <VText x={GEO.K.x - 31} y={mid(GEO.K)}>HR (bpm)</VText>
      <VText x={GEO.L.x - 31} y={mid(GEO.L)}>HR (bpm)</VText>
      <VText x={GEO.M.x - 31} y={mid(GEO.M)}>HR (bpm)</VText>

      <Stat x={GEO.A.x + 7} y={GEO.A.y + 13} t="AUC; p = 0.06" />
      <Stat x={GEO.A.x + 7} y={GEO.A.y + GEO.A.h - 12} t="AUC; p = 0.02" />
      <Stat x={GEO.B.x + 6} y={GEO.B.y + GEO.B.h - 12} t="AUC; p = 0.02" />
      <Stat x={GEO.C.x + 6} y={GEO.C.y + GEO.C.h - 12} t="AUC; p = 0.26" />
      <Stat x={GEO.D.x + 9} y={GEO.D.y + 14} t="p < 0.0001" />
      <Stat x={GEO.E.x + 9} y={GEO.E.y + 14} t="p < 0.0001" />
      <Stat x={GEO.F.x + 7} y={GEO.F.y + 14} t="p < 0.0001" />
      <Stat x={GEO.H.x + 5} y={GEO.H.y + GEO.H.h - 12} t="AUC; p = 0.04" />
      <Stat x={GEO.I.x + 5} y={GEO.I.y + GEO.I.h - 12} t="AUC; p = 0.25" />
      <Stat x={GEO.J.x + 5} y={GEO.J.y + GEO.J.h - 12} t="AUC; p = 0.95" />
      <Stat x={GEO.K.x + 5} y={GEO.K.y + GEO.K.h - 12} t="AUC; p = 0.76" />
      <Stat x={GEO.L.x + 5} y={GEO.L.y + GEO.L.h - 12} t="AUC; p = 0.75" />
      <Stat x={GEO.M.x + 8} y={GEO.M.y + GEO.M.h - 12} t="AUC; p = 0.86" />

      <O2Label g={GEO.D} xMax={101} />
      <O2Label g={GEO.E} xMax={101} />
      <O2Label g={GEO.F} xMax={101} />

      {title(GEO.H, '7 days after Ang II infusion')}
      {title(GEO.I, '14 days after Ang II infusion')}
      {title(GEO.J, '21 days after Ang II infusion')}
      {title(GEO.K, '7 days after Ang II infusion')}
      {title(GEO.L, '14 days after Ang II infusion')}
      {title(GEO.M, '21 days after Ang II infusion')}

      <LegendRow y={224} bx={255} rx={335} />
      <LegendRow y={454} bx={256} rx={331} />
      <LegendRow y={944} bx={256} rx={327} />
    </svg>
  );
}

const rowsA = buildRows({ sysWT, sysWTE, sysKO, sysKOE, diaWT, diaWTE, diaKO, diaKOE });
const seriesA = [koSeries('sysKO', 'sysKOE'), koSeries('diaKO', 'diaKOE'), wtSeries('sysWT', 'sysWTE'), wtSeries('diaWT', 'diaWTE')];
const bpTicks60 = [60, 80, 100, 120, 140, 160];
const hrTicks400 = [400, 500, 600, 700, 800];

export default function App() {
  return (
    <div style={{ position: 'absolute', left: 0, top: 0, width: 617, height: 953, background: '#fff', fontFamily: FONT, overflow: 'hidden' }}>
      <Panel geo={GEO.A} rows={rowsA} series={seriesA} xMax={54} xTicks={ticks54} yDomain={[60, 160]} yTicks={bpTicks60} dark={darkBaseline} />
      <Panel geo={GEO.B} rows={pairRows(bWT, bWTE, bKO, bKOE)} xMax={54} xTicks={ticks54} yDomain={[60, 160]} yTicks={bpTicks60} dark={darkBaseline} />
      <Panel geo={GEO.C} rows={pairRows(cWT, cWTE, cKO, cKOE)} xMax={54} xTicks={ticks54} yDomain={[400, 800]} yTicks={hrTicks400} dark={darkBaseline} />

      <Panel geo={GEO.D} rows={pairRows(dWT, dWTE, dKO, dKOE)} xMax={101} xTicks={ticks96} yDomain={[40, 160]}
        yTicks={[40, 60, 80, 100, 120, 140, 160]} dark={darkHypoxia} o2y={56}
        fits={[{ data: fitRows(fitDKOHours, fitDKO), color: ORANGE }, { data: fitRows(fitDWTHours, fitDWT), color: FIT_GREY }]} />
      <Panel geo={GEO.E} rows={pairRows(eWT, eWTE, eKO, eKOE)} xMax={101} xTicks={ticks96} yDomain={[200, 800]}
        yTicks={[200, 300, 400, 500, 600, 700, 800]} dark={darkHypoxia} o2y={281}
        fits={[{ data: fitRows(fitEKOHours, fitEKO), color: ORANGE }, { data: fitRows(fitEWTHours, fitEWT), color: FIT_GREY }]} />
      <Panel geo={GEO.F} rows={pairRows(fWT, fWTE, fKO, fKOE)} xMax={101} xTicks={ticks96} yDomain={[28, 36]}
        yTicks={[28, 30, 32, 34, 36]} dark={darkHypoxia} o2y={29.13}
        fits={[{ data: fitRows(fitFKOHours, fitFKO), color: ORANGE }, { data: fitRows(fitFWTHours, fitFWT), color: FIT_GREY }]} />

      <Timeline />

      <Panel geo={GEO.H} rows={pairRows(hWT, hWTE, hKO, hKOE)} xMax={50} xTicks={ticks48} yDomain={[100, 180]} yTicks={[100, 120, 140, 160, 180]} dark={darkAngII} />
      <Panel geo={GEO.I} rows={pairRows(iWT, iWTE, iKO, iKOE)} xMax={50} xTicks={ticks48} yDomain={[100, 180]} yTicks={[100, 120, 140, 160, 180]} dark={darkAngII} />
      <Panel geo={GEO.J} rows={pairRows(jWT, jWTE, jKO, jKOE)} xMax={50} xTicks={ticks48} yDomain={[80, 180]} yTicks={[80, 100, 120, 140, 160, 180]} dark={darkAngII} />
      <Panel geo={GEO.K} rows={pairRows(kWT, kWTE, kKO, kKOE)} xMax={50} xTicks={ticks48} yDomain={[400, 800]} yTicks={hrTicks400} dark={darkAngII} />
      <Panel geo={GEO.L} rows={pairRows(lWT, lWTE, lKO, lKOE)} xMax={50} xTicks={ticks48} yDomain={[400, 800]} yTicks={hrTicks400} dark={darkAngII} />
      <Panel geo={GEO.M} rows={pairRows(mWT, mWTE, mKO, mKOE)} xMax={50} xTicks={ticks48} yDomain={[400, 800]} yTicks={hrTicks400} dark={darkAngII} />

      <Overlay />
    </div>
  );
}
